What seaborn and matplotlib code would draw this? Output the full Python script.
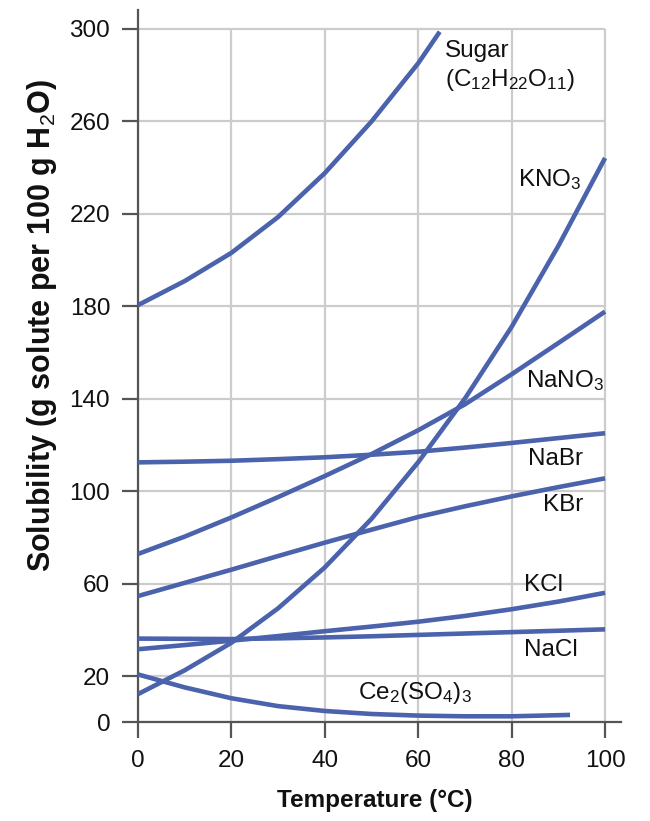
import numpy as np
import pandas as pd
import matplotlib
matplotlib.use("Agg")
import matplotlib.pyplot as plt
import seaborn as sns

# ---- data ----
x_full = [0, 10, 20, 30, 40, 50, 60, 70, 80, 90, 100]
sugar_x = [0, 10, 20, 30, 40, 50, 60, 64.6]
sugar_y = [180.4, 190.8, 203.0, 218.5, 237.5, 259.8, 285.0, 298.6]
kno3_y = [12.2, 22.5, 34.4, 49.3, 67.0, 88.0, 112.5, 140.0, 171.0, 206.0, 244.0]
nano3_y = [72.8, 80.3, 88.6, 97.4, 106.5, 116.0, 126.3, 137.5, 150.5, 164.0, 177.6]
nabr_y = [112.4, 112.7, 113.1, 113.8, 114.6, 115.7, 117.0, 118.8, 120.8, 122.9, 125.0]
kbr_y = [54.6, 60.3, 66.0, 71.9, 77.7, 83.3, 88.8, 93.4, 97.7, 101.7, 105.5]
kcl_y = [31.6, 33.4, 35.3, 37.3, 39.4, 41.4, 43.5, 46.0, 48.9, 52.2, 56.0]
nacl_y = [36.2, 36.1, 36.0, 36.3, 36.7, 37.2, 37.8, 38.4, 39.0, 39.6, 40.2]
ce_x = [0, 10, 20, 30, 40, 50, 60, 70, 80, 92.5]
ce_y = [20.7, 15.1, 10.4, 7.0, 4.9, 3.6, 2.9, 2.6, 2.6, 3.2]

x_ticks = [0, 20, 40, 60, 80, 100]
y_ticks = [0, 20, 60, 100, 140, 180, 220, 260, 300]

labels = {
    "Sugar": ("Sugar\n(C$_{12}$H$_{22}$O$_{11}$)", 65.7, 295.0),
    "KNO3": ("KNO$_3$", 81.4, 234.5),
    "NaNO3": ("NaNO$_3$", 83.1, 147.6),
    "NaBr": ("NaBr", 83.5, 113.9),
    "KBr": ("KBr", 86.7, 94.0),
    "KCl": ("KCl", 82.7, 59.5),
    "NaCl": ("NaCl", 82.7, 31.2),
    "Ce2(SO4)3": ("Ce$_2$(SO$_4$)$_3$", 47.0, 12.5),
}

series = [
    ("Sugar", sugar_x, sugar_y),
    ("KNO3", x_full, kno3_y),
    ("NaNO3", x_full, nano3_y),
    ("NaBr", x_full, nabr_y),
    ("KBr", x_full, kbr_y),
    ("KCl", x_full, kcl_y),
    ("NaCl", x_full, nacl_y),
    ("Ce2(SO4)3", ce_x, ce_y),
]
rows = []
for name, xs, ys in series:
    for xv, yv in zip(xs, ys):
        rows.append({"substance": name, "T": xv, "S": yv})
df = pd.DataFrame(rows)

# ---- style ----
sns.set_theme(style="white")
plt.rcParams["font.family"] = ["Liberation Sans", "DejaVu Sans"]
plt.rcParams["mathtext.fontset"] = "custom"
plt.rcParams["mathtext.rm"] = "Liberation Sans"
plt.rcParams["mathtext.it"] = "Liberation Sans:italic"
plt.rcParams["mathtext.bf"] = "Liberation Sans:bold"

line_color = "#4B62AD"
grid_color = "#CCCCCC"
axis_color = "#555555"
FS = 17.5

fig = plt.figure(figsize=(6.5, 8.21), dpi=100)
ax = fig.add_axes([0.2123, 0.1202, 0.7437, 0.8676])

ax.set_xlim(0, 103.5)
ax.set_ylim(0, 308)

# grid limited to the 0-100 / 0-300 region
ax.hlines(y_ticks, 0, 100, color=grid_color, lw=1.6, zorder=0)
ax.vlines(x_ticks, 0, 300, color=grid_color, lw=1.6, zorder=0)

palette = {name: line_color for name, _, _ in series}
sns.lineplot(data=df, x="T", y="S", hue="substance", palette=palette,
             estimator=None, sort=True, legend=False, lw=3.3, ax=ax, zorder=3)
for ln in ax.get_lines():
    ln.set_solid_joinstyle("round")
    ln.set_solid_capstyle("butt")

for key, (txt, tx, ty) in labels.items():
    ax.text(tx, ty, txt, fontsize=FS, color="#111111", ha="left",
            va="center" if key != "Sugar" else "top", linespacing=1.25, zorder=4)

for side in ["top", "right"]:
    ax.spines[side].set_visible(False)
for side in ["left", "bottom"]:
    ax.spines[side].set_color(axis_color)
    ax.spines[side].set_linewidth(1.6)

ax.set_xticks(x_ticks)
ax.set_yticks(y_ticks)
ax.tick_params(axis="both", direction="out", length=11.5, width=1.6,
               color=axis_color, labelsize=FS, pad=8.5, labelcolor="#111111",
               left=True, bottom=True)

ax.set_xlabel("Temperature (°C)", fontsize=FS, fontweight="bold", color="#111111")
ax.set_ylabel("Solubility (g solute per 100 g H$_2$O)", fontsize=22,
              fontweight="bold", color="#111111")
ax.xaxis.set_label_coords(0.49, -0.094)
ax.yaxis.set_label_coords(-0.163, 0.557)

fig.savefig("out.png", dpi=100)
